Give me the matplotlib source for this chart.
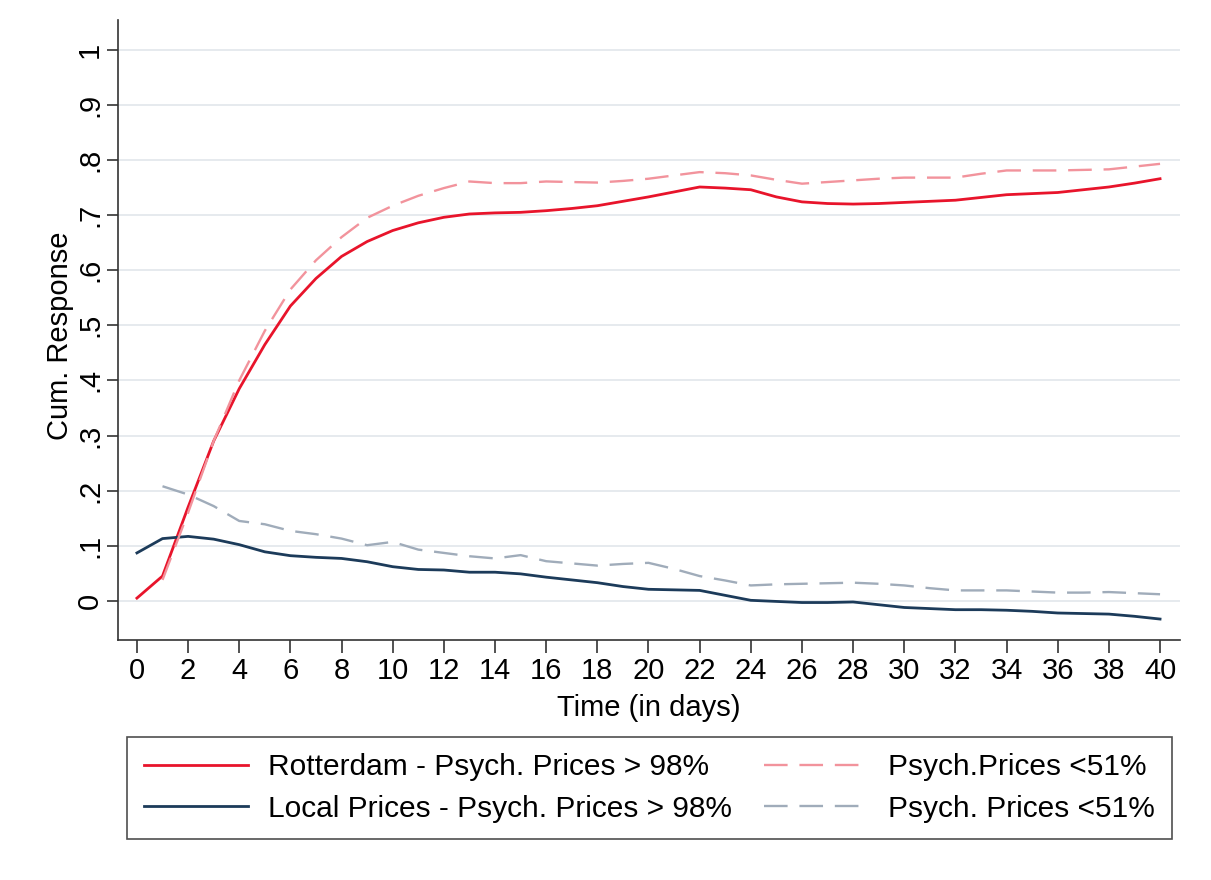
import matplotlib
matplotlib.use("Agg")
import matplotlib.pyplot as plt

plt.rcParams['font.family'] = ['Liberation Sans', 'DejaVu Sans']

# daily cumulative responses
days = list(range(0, 41))
days_from1 = list(range(1, 41))

rotterdam_hi = [0.005, 0.045, 0.17, 0.29, 0.385, 0.465, 0.535, 0.585, 0.625, 0.652,
                0.672, 0.686, 0.696, 0.702, 0.704, 0.705, 0.708, 0.712, 0.717, 0.725,
                0.733, 0.742, 0.751, 0.749, 0.746, 0.733, 0.724, 0.721, 0.720, 0.721,
                0.723, 0.725, 0.727, 0.732, 0.737, 0.739, 0.741, 0.746, 0.751, 0.758,
                0.766]
rotterdam_lo = [0.038, 0.16, 0.29, 0.40, 0.49, 0.565, 0.618, 0.66, 0.695,
                0.717, 0.735, 0.749, 0.761, 0.758, 0.758, 0.761, 0.760, 0.759, 0.762,
                0.766, 0.772, 0.778, 0.776, 0.772, 0.764, 0.757, 0.760, 0.763, 0.766,
                0.768, 0.768, 0.768, 0.775, 0.781, 0.781, 0.781, 0.782, 0.783, 0.788,
                0.793]
local_hi = [0.087, 0.113, 0.117, 0.112, 0.102, 0.089, 0.082, 0.079, 0.077, 0.071,
            0.062, 0.057, 0.056, 0.052, 0.052, 0.049, 0.043, 0.038, 0.033, 0.026,
            0.021, 0.020, 0.019, 0.010, 0.001, -0.001, -0.003, -0.003, -0.002, -0.007,
            -0.012, -0.014, -0.016, -0.016, -0.017, -0.019, -0.022, -0.023, -0.024, -0.028,
            -0.033]
local_lo = [0.208, 0.193, 0.172, 0.145, 0.139, 0.127, 0.121, 0.113, 0.101,
            0.107, 0.093, 0.087, 0.081, 0.077, 0.083, 0.072, 0.068, 0.064, 0.067,
            0.069, 0.058, 0.045, 0.037, 0.028, 0.030, 0.031, 0.032, 0.033, 0.031,
            0.028, 0.023, 0.019, 0.019, 0.019, 0.017, 0.015, 0.015, 0.016, 0.014,
            0.012]

yticks = [0, 0.1, 0.2, 0.3, 0.4, 0.5, 0.6, 0.7, 0.8, 0.9, 1.0]
ytick_labels = ["0", ".1", ".2", ".3", ".4", ".5", ".6", ".7", ".8", ".9", "1"]
xticks = list(range(0, 41, 2))

labels = ["Rotterdam - Psych. Prices > 98%", "Local Prices - Psych. Prices > 98%",
          "Psych.Prices <51%", "Psych. Prices <51%"]

fs = 21
fig = plt.figure(figsize=(12.11, 8.80), dpi=100)
ax = fig.add_axes([118 / 1211, 1 - 640 / 880, 1062 / 1211, 620 / 880])

for y in yticks:
    ax.axhline(y, color="#e6eaee", lw=1.4, zorder=0)

dash = (0, (10, 5))
l1, = ax.plot(days, rotterdam_hi, color="#e8142b", lw=2.0)
l2, = ax.plot(days, local_hi, color="#1c3b5a", lw=2.0)
l3, = ax.plot(days_from1, rotterdam_lo, color="#f2939c", lw=1.7, linestyle=dash)
l4, = ax.plot(days_from1, local_lo, color="#a0acba", lw=1.7, linestyle=dash)

ax.set_xlim(-0.74, 40.78)
ax.set_ylim(-0.071, 1.054)
ax.set_xticks(xticks)
ax.set_xticklabels([str(t) for t in xticks], fontsize=fs)
ax.set_yticks(yticks)
ax.set_yticklabels(ytick_labels, fontsize=fs, rotation=90, va="center")

ax.spines["top"].set_visible(False)
ax.spines["right"].set_visible(False)
for s in ("left", "bottom"):
    ax.spines[s].set_color("#333333")
    ax.spines[s].set_linewidth(1.2)
ax.tick_params(axis="x", length=9, width=1.2, color="#333333", pad=3)
ax.tick_params(axis="y", length=8, width=1.2, color="#333333", pad=2)

ax.set_xlabel("Time (in days)", fontsize=fs, labelpad=7)
ax.set_ylabel("Cum. Response", fontsize=fs)
ax.yaxis.set_label_coords(-0.041, 0.49)

leg = fig.legend([l1, l2, l3, l4], labels, ncol=2, loc="center",
                 bbox_to_anchor=(649.5 / 1211, 1 - 788 / 880), fontsize=21.5,
                 frameon=True, fancybox=False, edgecolor="#222222",
                 handlelength=3.5, handletextpad=0.65, columnspacing=1.1,
                 labelspacing=0.45, borderpad=0.55)
leg.get_frame().set_linewidth(1.2)

fig.savefig("out.png", dpi=100)
